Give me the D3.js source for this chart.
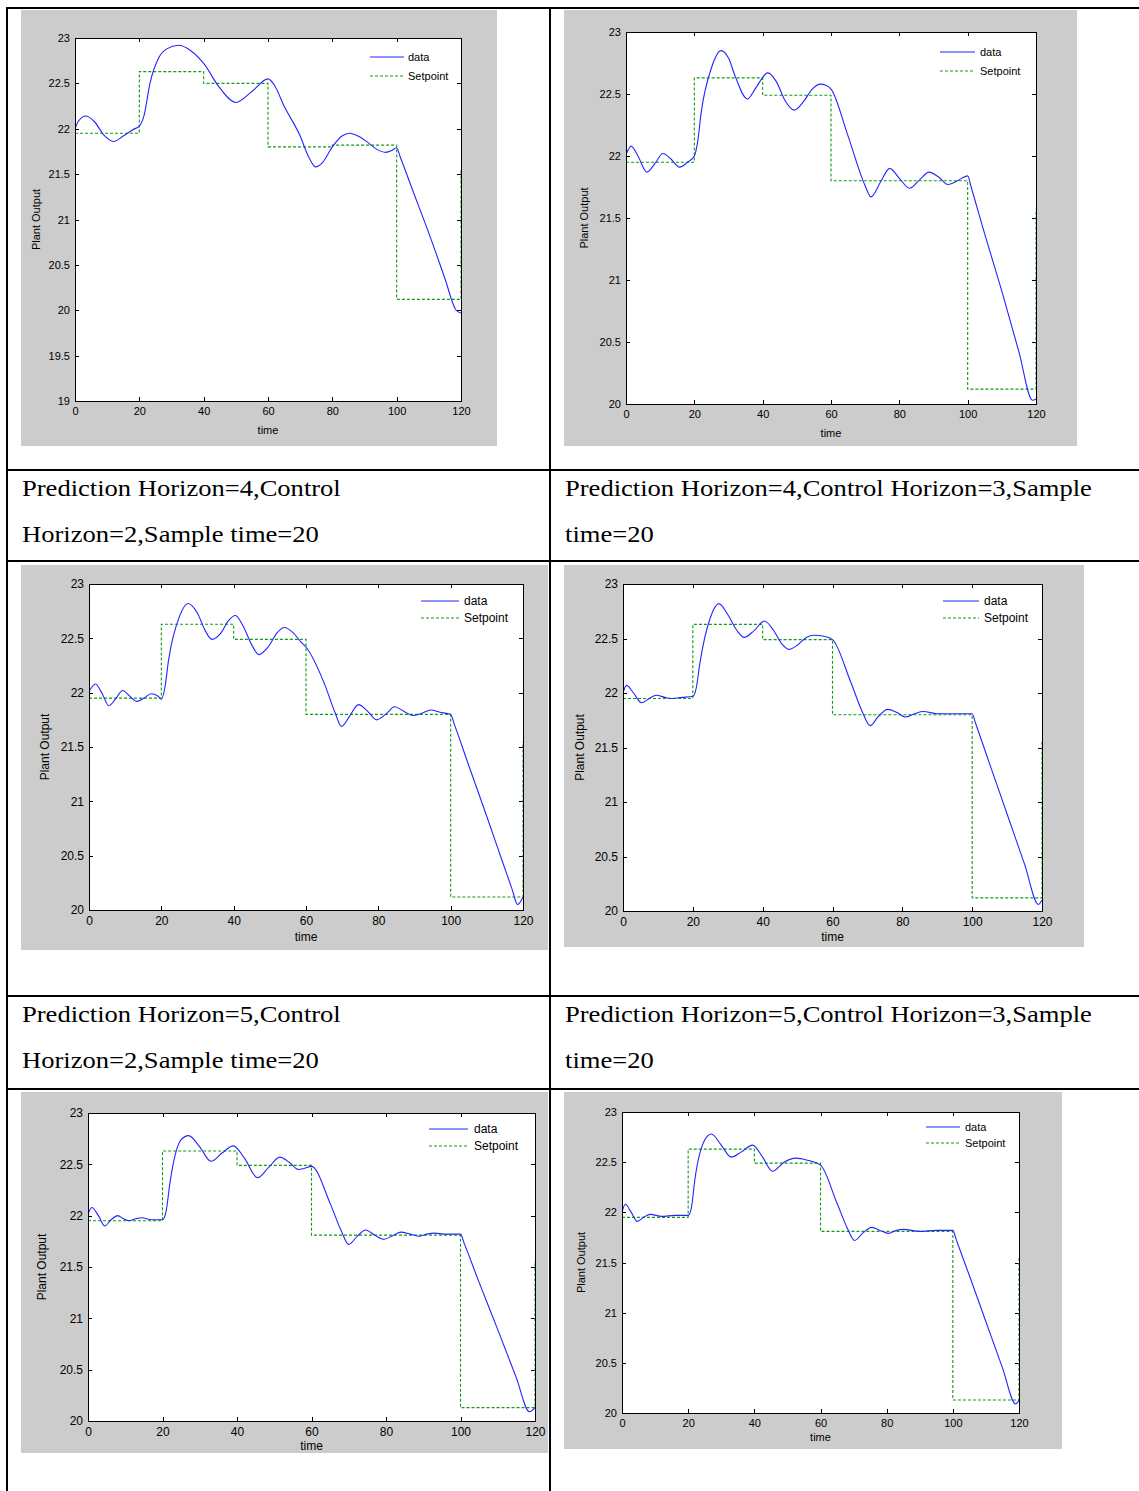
<!DOCTYPE html>
<html>
<head>
<meta charset="utf-8">
<script src="https://cdn.jsdelivr.net/npm/d3@7"></script>
<style>
  body { margin: 0; background: #fff; }
  svg { display: block; }
</style>
</head>
<body>
<div id="chart"></div>
<script>
// ---- data (time, plant output) ----
const timeTicks = [0, 20, 40, 60, 80, 100, 120];
const outputTicksWide = [19, 19.5, 20, 20.5, 21, 21.5, 22, 22.5, 23];
const outputTicksNarrow = [20, 20.5, 21, 21.5, 22, 22.5, 23];
const legendLabels = ['data', 'Setpoint'];

const outPH4CH2a = [[0, 22.00], [1, 22.08], [3.3, 22.14], [6, 22.08], [9, 21.93], [12, 21.86], [15, 21.92],
  [18, 21.99], [20, 22.03], [21.5, 22.15], [23.3, 22.5], [26, 22.78], [28.5, 22.88], [32.2, 22.92],
  [36, 22.86], [40, 22.72], [45, 22.45], [50, 22.29], [55, 22.41], [60, 22.55], [62, 22.48], [65, 22.25],
  [70, 21.92], [72.5, 21.70], [74.8, 21.58], [77, 21.63], [80, 21.80], [83, 21.92], [85.4, 21.95],
  [88, 21.92], [91, 21.85], [94, 21.77], [96.5, 21.74], [98.5, 21.76], [100, 21.79], [101, 21.70],
  [105, 21.32], [110, 20.85], [115, 20.35], [118.5, 20.00], [120, 19.97]];
const setPH4CH2a = [[0, 21.95], [20, 22.63], [40, 22.5], [60, 21.8], [80, 21.82], [100, 20.12], [120, 21.55]];

const outPH4CH3 = [[0, 22.01], [1.5, 22.08], [3.5, 22.0], [6.1, 21.87], [8.5, 21.94], [10.8, 22.02], [13, 21.98],
  [15.7, 21.91], [18, 21.95], [20, 22.0], [21, 22.12], [22, 22.35], [25, 22.71], [27.8, 22.85], [30, 22.79],
  [32, 22.64], [35.5, 22.46], [38, 22.55], [41.5, 22.67], [44, 22.6], [46.5, 22.45], [49.2, 22.37],
  [52, 22.44], [54.5, 22.54], [56.9, 22.58], [58.5, 22.57], [60, 22.54], [65, 22.16], [70, 21.76],
  [71.7, 21.67], [74.5, 21.79], [77.2, 21.9], [80, 21.82], [83, 21.74], [86, 21.81], [88.7, 21.87],
  [91.5, 21.83], [94.2, 21.77], [97, 21.8], [100, 21.84], [101, 21.75], [105, 21.37], [110, 20.91],
  [115, 20.42], [119, 20.03], [120, 20.04]];
const setPH4CH3 = [[0, 21.95], [20, 22.63], [40, 22.49], [60, 21.8], [100, 20.12], [120, 21.57]];

const outPH5CH2 = [[0, 22.01], [1.8, 22.08], [3.5, 22.0], [5.5, 21.88], [7.5, 21.95], [9.3, 22.02], [11.2, 21.97],
  [13.2, 21.92], [15.2, 21.95], [17.2, 21.99], [19, 21.97], [20, 21.94], [21, 22.05], [22, 22.3], [25, 22.7],
  [27.4, 22.82], [30, 22.73], [32, 22.58], [34, 22.49], [36.5, 22.55], [38.5, 22.66], [40.5, 22.71],
  [42.5, 22.62], [45, 22.44], [47, 22.35], [49.5, 22.42], [52, 22.55], [54, 22.6], [56.5, 22.55],
  [58.5, 22.47], [60, 22.42], [65, 22.09], [68, 21.82], [69.8, 21.69], [72, 21.78], [74.5, 21.89],
  [77, 21.83], [79.5, 21.75], [82, 21.8], [84.5, 21.87], [87, 21.83], [89.5, 21.79], [92, 21.81],
  [94.5, 21.84], [97, 21.82], [100, 21.8], [101, 21.71], [105, 21.33], [110, 20.86], [115, 20.38],
  [117, 20.19], [118.5, 20.05], [120, 20.12]];
const setPH5CH2 = [[0, 21.95], [20, 22.63], [40, 22.49], [60, 21.8], [100, 20.12], [120, 21.55]];

const outPH5CH3 = [[0, 22.0], [1, 22.07], [3, 22.0], [5.3, 21.91], [7.5, 21.95], [9.5, 21.98], [12, 21.96],
  [14, 21.95], [17, 21.96], [20, 21.97], [21, 22.05], [22, 22.27], [25, 22.69], [27.5, 22.82], [30, 22.72],
  [32.5, 22.58], [34.7, 22.51], [37.5, 22.57], [40.5, 22.66], [43, 22.58], [45.5, 22.45], [47.5, 22.4],
  [50, 22.44], [52.5, 22.51], [54.8, 22.53], [57.5, 22.52], [60, 22.49], [65, 22.12], [68.5, 21.83],
  [70.8, 21.7], [73, 21.78], [75.8, 21.85], [78.5, 21.82], [80.8, 21.78], [83.5, 21.81], [86, 21.83],
  [90, 21.81], [95, 21.81], [100, 21.81], [101, 21.72], [105, 21.35], [110, 20.89], [115, 20.43],
  [119, 20.06], [120, 20.1]];
const setPH5CH3 = [[0, 21.95], [20, 22.63], [40, 22.49], [60, 21.8], [100, 20.12], [120, 21.55]];

const outPH4CH2b = [[0, 22.01], [1, 22.08], [2.8, 22.0], [4.5, 21.9], [6.2, 21.96], [8, 22.0], [9.5, 21.97],
  [11, 21.95], [12.8, 21.97], [14.5, 21.98], [17, 21.96], [20, 21.96], [21, 22.05], [22, 22.32], [25, 22.74],
  [27, 22.78], [30, 22.67], [33, 22.53], [36, 22.61], [39, 22.68], [42, 22.56], [45.5, 22.37], [48.5, 22.47],
  [51.5, 22.57], [54, 22.52], [56.5, 22.45], [58, 22.46], [60, 22.48], [65, 22.12], [68, 21.85], [70, 21.72],
  [72.3, 21.8], [74.5, 21.86], [77, 21.81], [79.5, 21.77], [82, 21.81], [84, 21.84], [86.5, 21.82],
  [89, 21.8], [91, 21.82], [93, 21.83], [96, 21.82], [100, 21.82], [101, 21.73], [105, 21.35], [110, 20.89],
  [115, 20.42], [118.5, 20.09], [120, 20.13]];
const setPH4CH2b = [[0, 21.95], [20, 22.63], [40, 22.49], [60, 21.81], [100, 20.13], [120, 21.56]];

const outPH4CH3b = [[0, 22.0], [1, 22.08], [2.8, 22.0], [4.6, 21.91], [6.5, 21.95], [8.5, 21.98], [12, 21.96],
  [16, 21.97], [20, 21.97], [21, 22.05], [22, 22.32], [25, 22.72], [27, 22.78], [30, 22.67], [33, 22.55],
  [36, 22.6], [39.5, 22.67], [42.5, 22.55], [45.5, 22.41], [49, 22.5], [52.5, 22.54], [56, 22.52],
  [60, 22.47], [65, 22.09], [68, 21.85], [70.3, 21.72], [73, 21.8], [75.5, 21.85], [78, 21.82],
  [80.5, 21.79], [83, 21.82], [85, 21.83], [90, 21.81], [95, 21.82], [100, 21.82], [101, 21.73],
  [105, 21.37], [110, 20.91], [115, 20.45], [119, 20.09], [120, 20.13]];
const setPH4CH3b = [[0, 21.95], [20, 22.63], [40, 22.49], [60, 21.81], [100, 20.13], [120, 21.56]];

const captionsRow1 = [
  ['Prediction Horizon=4,Control', 'Horizon=2,Sample time=20'],
  ['Prediction Horizon=4,Control Horizon=3,Sample', 'time=20']
];
const captionsRow2 = [
  ['Prediction Horizon=5,Control', 'Horizon=2,Sample time=20'],
  ['Prediction Horizon=5,Control Horizon=3,Sample', 'time=20']
];

// ---- layout ----
const W = 1139, H = 1491;
const COLORS = { data: '#2424ff', setpoint: '#119a11', figure: '#cccccc', text: '#000' };
const SANS = 'Liberation Sans, Arial, sans-serif';

// fig: grey figure rect, box: axes rect, xl/yl: axis-label offsets, leg: legend line x0,x1, text x, rows
const panels = [
  { fig: [21, 10, 497, 446], box: [75, 38, 461, 401], yTicks: outputTicksWide, font: 11, xl: 29, yl: 36,
    leg: [370, 404, 408, 57, 76], out: outPH4CH2a, set: setPH4CH2a },
  { fig: [564, 10, 1077, 446], box: [626, 32, 1036, 404], yTicks: outputTicksNarrow, font: 11, xl: 29, yl: 584,
    leg: [940, 975, 980, 52, 71], out: outPH4CH3, set: setPH4CH3 },
  { fig: [21, 565, 548, 950], box: [89, 584, 523, 910], yTicks: outputTicksNarrow, font: 12, xl: 27, yl: 45,
    leg: [421, 459, 464, 601, 618], out: outPH5CH2, set: setPH5CH2 },
  { fig: [564, 565, 1084, 947], box: [623, 584, 1042, 911], yTicks: outputTicksNarrow, font: 12, xl: 26, yl: 580,
    leg: [943, 979, 984, 601, 618], out: outPH5CH3, set: setPH5CH3 },
  { fig: [21, 1092, 548, 1453], box: [88, 1113, 535, 1421], yTicks: outputTicksNarrow, font: 12, xl: 25, yl: 42,
    leg: [429, 468, 474, 1129, 1146], out: outPH4CH2b, set: setPH4CH2b },
  { fig: [564, 1092, 1062, 1449], box: [622, 1112, 1019, 1413], yTicks: outputTicksNarrow, font: 11, xl: 24, yl: 581,
    leg: [926, 960, 965, 1127, 1143], out: outPH4CH3b, set: setPH4CH3b }
];

const svg = d3.select('#chart').append('svg')
  .attr('width', W)
  .attr('height', H)
  .style('background', '#fff');

function drawPanel(p, i) {
  const [fx0, fy0, fx1, fy1] = p.fig;
  const [left, top, right, bottom] = p.box;
  const g = svg.append('g').attr('class', 'panel');

  // grey figure background
  g.append('rect')
    .attr('x', fx0).attr('y', fy0)
    .attr('width', fx1 - fx0).attr('height', fy1 - fy0)
    .attr('fill', COLORS.figure);

  // white axes area
  g.append('rect')
    .attr('x', left).attr('y', top)
    .attr('width', right - left).attr('height', bottom - top)
    .attr('fill', '#fff');

  const x = d3.scaleLinear().domain([0, 120]).range([left, right]);
  const y = d3.scaleLinear().domain(d3.extent(p.yTicks)).range([bottom, top]);

  const fmt = d => String(d);
  const axes = [
    [d3.axisBottom(x).tickValues(timeTicks).tickFormat(fmt).tickPadding(6), `translate(0,${bottom})`],
    [d3.axisTop(x).tickValues(timeTicks).tickFormat(''), `translate(0,${top})`],
    [d3.axisLeft(y).tickValues(p.yTicks).tickFormat(fmt).tickPadding(5), `translate(${left},0)`],
    [d3.axisRight(y).tickValues(p.yTicks).tickFormat(''), `translate(${right},0)`]
  ];
  axes.forEach(([axis, tr]) => {
    const a = g.append('g')
      .attr('transform', tr)
      .call(axis.tickSizeInner(-4).tickSizeOuter(0));
    a.select('.domain').remove();
    a.selectAll('line').attr('stroke', '#000').attr('shape-rendering', 'crispEdges');
    a.selectAll('text')
      .attr('fill', COLORS.text)
      .attr('font-family', SANS)
      .attr('font-size', p.font + 'px');
  });

  // clip and lines
  const clipId = 'clip' + i;
  g.append('clipPath').attr('id', clipId)
    .append('rect')
    .attr('x', left).attr('y', top - 1)
    .attr('width', right - left + 1).attr('height', bottom - top + 2);

  const lines = g.append('g').attr('clip-path', `url(#${clipId})`);

  const stepLine = d3.line()
    .x(d => x(d[0])).y(d => y(d[1]))
    .curve(d3.curveStepAfter);
  lines.append('path')
    .datum(p.set)
    .attr('d', stepLine)
    .attr('fill', 'none')
    .attr('stroke', COLORS.setpoint)
    .attr('stroke-width', 1.1)
    .attr('stroke-dasharray', '3,2');

  const smoothLine = d3.line()
    .x(d => x(d[0])).y(d => y(d[1]))
    .curve(d3.curveMonotoneX);
  lines.append('path')
    .datum(p.out)
    .attr('d', smoothLine)
    .attr('fill', 'none')
    .attr('stroke', COLORS.data)
    .attr('stroke-width', 1.1);

  // axes box
  g.append('rect')
    .attr('x', left + 0.5).attr('y', top + 0.5)
    .attr('width', right - left).attr('height', bottom - top)
    .attr('fill', 'none')
    .attr('stroke', '#000')
    .attr('stroke-width', 1)
    .attr('shape-rendering', 'crispEdges');

  // axis labels
  g.append('text')
    .attr('x', (left + right) / 2)
    .attr('y', bottom + p.xl)
    .attr('text-anchor', 'middle')
    .attr('dominant-baseline', 'central')
    .attr('font-family', SANS)
    .attr('font-size', p.font + 'px')
    .attr('fill', COLORS.text)
    .text('time');

  g.append('text')
    .attr('transform', `translate(${p.yl},${(top + bottom) / 2}) rotate(-90)`)
    .attr('text-anchor', 'middle')
    .attr('dominant-baseline', 'central')
    .attr('font-family', SANS)
    .attr('font-size', p.font + 'px')
    .attr('fill', COLORS.text)
    .text('Plant Output');

  // legend
  const [lx0, lx1, tx, ly0, ly1] = p.leg;
  [[ly0, COLORS.data, null], [ly1, COLORS.setpoint, '3,2']].forEach(([ly, col, dash], k) => {
    g.append('line')
      .attr('x1', lx0).attr('x2', lx1)
      .attr('y1', ly).attr('y2', ly)
      .attr('stroke', col)
      .attr('stroke-width', 1.1)
      .attr('stroke-dasharray', dash);
    g.append('text')
      .attr('x', tx).attr('y', ly)
      .attr('dominant-baseline', 'central')
      .attr('font-family', SANS)
      .attr('font-size', p.font + 'px')
      .attr('fill', COLORS.text)
      .text(legendLabels[k]);
  });
}

panels.forEach(drawPanel);

// ---- table rules and captions ----
const hRules = [8, 470, 561, 996, 1089];
const vRules = [7, 550];
const rules = svg.append('g').attr('stroke', '#000').attr('stroke-width', 2)
  .attr('shape-rendering', 'crispEdges');
hRules.forEach(yy => rules.append('line').attr('x1', 6).attr('x2', W).attr('y1', yy).attr('y2', yy));
vRules.forEach(xx => rules.append('line').attr('x1', xx).attr('x2', xx).attr('y1', 7).attr('y2', H));

const textStretch = 1.107;
function caption(lines, x0, y0) {
  lines.forEach((s, k) => {
    svg.append('text')
      .attr('transform', `translate(${x0},${y0 + k * 46}) scale(${textStretch},1)`)
      .attr('font-family', "'Liberation Serif', 'Times New Roman', serif")
      .attr('font-size', '24px')
      .attr('fill', '#000')
      .text(s);
  });
}
caption(captionsRow1[0], 22, 496);
caption(captionsRow1[1], 565, 496);
caption(captionsRow2[0], 22, 1022);
caption(captionsRow2[1], 565, 1022);
</script>
</body>
</html>
